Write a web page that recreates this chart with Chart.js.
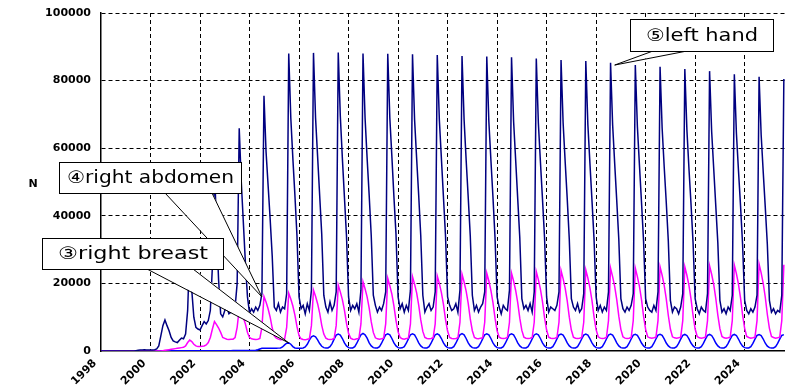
<!DOCTYPE html>
<html><head><meta charset="utf-8">
<script src="https://cdn.jsdelivr.net/npm/chart.js@4/dist/chart.umd.min.js"></script>
<style>html,body{margin:0;padding:0;background:#fff;}#wrap{width:785px;height:385px;}</style>
</head><body><div id="wrap"><canvas id="c" width="785" height="385"></canvas></div>
<script>
// ---- data (monthly, starting January 1998) ----
const startYear = 1998;
const xTickYears = [1998,2000,2002,2004,2006,2008,2010,2012,2014,2016,2018,2020,2022,2024];
const yTicks = [0,20000,40000,60000,80000,100000];
const yAxisLabel = 'N';

const leftHand = [
/*1998*/ 0,0,0,0,0,0,0,0,0,0,0,0,
/*1999*/ 0,0,0,0,0,100,200,300,300,400,300,300,
/*2000*/ 300,300,400,600,1500,4500,7500,9200,7500,6000,4000,3000,
/*2001*/ 2700,2500,3200,3800,3600,5000,12000,30000,18000,10000,7000,6500,
/*2002*/ 6200,7500,8700,8000,9000,12000,25000,55000,36000,21000,11000,10100,
/*2003*/ 12000,13100,11000,11500,12500,13000,20000,65900,50000,38000,26000,16000,
/*2004*/ 11200,12500,11500,13000,12000,13500,17000,75500,59000,49000,39000,28000,
/*2005*/ 13000,12000,14000,11500,13000,12500,17000,88000,69000,57000,46000,34000,
/*2006*/ 16000,12500,13500,11000,14000,12000,18000,88200,69000,57500,46000,34500,
/*2007*/ 16500,13000,11500,14500,12000,13500,17500,88300,69500,57000,45500,34000,
/*2008*/ 16000,12000,13500,12500,14000,11500,18000,88000,69000,57000,46000,34000,
/*2009*/ 16500,13500,11500,13000,12000,14000,17500,87950,69000,57500,45500,34500,
/*2010*/ 16000,12500,14000,11500,13500,12000,18000,87800,68500,57000,46000,34000,
/*2011*/ 16500,11500,13000,14000,12000,13000,17500,87600,68500,57000,45500,34000,
/*2012*/ 16000,13500,12000,12500,14000,11500,18000,87300,68500,56500,45500,34000,
/*2013*/ 16500,12000,13500,11500,13000,14000,17500,87100,68000,56500,45500,33500,
/*2014*/ 16000,13000,11000,13500,12500,12000,18000,86900,68000,56500,45000,33500,
/*2015*/ 15500,12500,13500,12000,14000,11500,17500,86500,67500,56000,45000,33500,
/*2016*/ 16000,11500,13000,12500,12000,13500,17500,86100,67500,56000,45000,33000,
/*2017*/ 15500,13000,12000,14000,11500,12500,17000,85800,67000,55500,44500,33000,
/*2018*/ 16000,12000,13500,11500,13000,12000,17500,85300,67000,55500,44500,33000,
/*2019*/ 15500,12500,11500,13000,12000,13500,17000,84600,66500,55000,44000,32500,
/*2020*/ 15500,13000,12000,11500,13500,12000,17500,84100,66000,54500,44000,32500,
/*2021*/ 15000,11500,13000,12500,11000,13000,17000,83400,65500,54000,43500,32000,
/*2022*/ 15500,12500,11000,13000,12000,11500,17000,82800,65000,54000,43000,32000,
/*2023*/ 15000,11500,12500,11000,13000,12000,16500,81900,64500,53500,43000,31500,
/*2024*/ 15000,12000,11000,12500,11500,13000,16500,81100,64000,53000,42500,31500,
/*2025*/ 15000,11500,12500,11000,12000,11500,16500,80500
];

const rightAbdomen = [
/*1998*/ 0,0,0,0,0,0,0,0,0,0,0,0,
/*1999*/ 0,0,0,0,0,0,0,0,0,0,0,0,
/*2000*/ 0,0,0,0,0,0,100,200,300,400,500,600,
/*2001*/ 700,800,900,1000,1100,1500,2500,3250,2800,2000,1500,1300,
/*2002*/ 1300,1400,1500,1800,2500,4000,6500,8700,7800,6800,5500,4000,
/*2003*/ 3750,3500,3400,3450,3500,4000,7000,12500,11300,9800,8000,5500,
/*2004*/ 4000,3600,3500,3400,3500,3700,7000,16100,14500,12500,10000,6800,
/*2005*/ 4500,3800,3500,3300,3400,3500,7000,17100,15400,13300,10600,7200,
/*2006*/ 4500,3600,3400,3300,3500,3600,7500,18000,16200,14000,11200,7600,
/*2007*/ 5000,3800,3500,3400,3500,3700,7500,19500,17500,15200,12100,8200,
/*2008*/ 5200,3800,3500,3400,3600,3700,8000,20500,18400,16000,12700,8600,
/*2009*/ 5500,3900,3600,3500,3600,3800,8000,21500,19300,16800,13300,9000,
/*2010*/ 5700,4000,3600,3500,3700,3800,8000,22000,19800,17200,13600,9200,
/*2011*/ 5800,4000,3700,3600,3700,3900,8000,22200,20000,17300,13800,9300,
/*2012*/ 5900,4000,3700,3600,3700,3900,8500,22700,20400,17700,14100,9500,
/*2013*/ 6000,4000,3700,3600,3800,3900,8500,23000,20700,17900,14300,9700,
/*2014*/ 6000,4100,3800,3700,3800,4000,8500,23000,20700,17900,14300,9700,
/*2015*/ 6100,4100,3800,3700,3800,4000,8500,23500,21100,18300,14600,9900,
/*2016*/ 6200,4100,3800,3700,3800,4000,8500,23800,21400,18600,14800,10000,
/*2017*/ 6200,4100,3800,3700,3800,4000,8500,24000,21600,18700,14900,10100,
/*2018*/ 6300,4200,3800,3700,3800,4000,9000,24500,22000,19100,15200,10300,
/*2019*/ 6400,4200,3800,3700,3800,4000,9000,24500,22000,19100,15200,10300,
/*2020*/ 6400,4200,3900,3800,3900,4100,9000,24900,22400,19400,15400,10500,
/*2021*/ 6500,4200,3900,3800,3900,4100,9000,24900,22400,19400,15400,10500,
/*2022*/ 6500,4300,3900,3800,3900,4100,9000,25200,22700,19700,15600,10600,
/*2023*/ 6600,4300,3900,3800,3900,4100,9000,25400,22900,19800,15700,10700,
/*2024*/ 6700,4300,4000,3800,3900,4100,9000,25700,23100,20000,15900,10800,
/*2025*/ 6700,4300,4000,3800,3900,4100,9000,25500
];

const rightBreast = [
/*1998*/ 0,0,0,0,0,0,0,0,0,0,0,0,
/*1999*/ 0,0,0,0,0,0,0,0,0,0,0,0,
/*2000*/ 0,0,0,0,50,50,50,100,100,100,100,100,
/*2001*/ 100,100,100,100,100,100,100,100,100,100,100,100,
/*2002*/ 100,100,100,100,100,100,100,100,100,100,100,100,
/*2003*/ 100,100,100,100,150,150,150,150,150,150,150,150,
/*2004*/ 150,150,150,200,350,600,800,800,800,800,800,800,
/*2005*/ 800,800,850,900,1200,1800,2300,2400,2000,1300,900,800,
/*2006*/ 800,800,900,1200,2000,3200,4200,4500,4200,3300,2200,1400,
/*2007*/ 1000,900,900,1300,2200,3500,4700,5000,4700,3700,2400,1500,
/*2008*/ 1000,900,900,1300,2300,3600,4800,5200,4800,3800,2400,1500,
/*2009*/ 1000,900,900,1300,2300,3600,4800,5100,4800,3700,2400,1500,
/*2010*/ 1000,900,950,1300,2300,3600,4800,5100,4800,3700,2400,1500,
/*2011*/ 1000,900,900,1300,2300,3600,4800,5100,4700,3700,2400,1500,
/*2012*/ 1000,900,900,1300,2300,3600,4800,5150,4800,3700,2400,1500,
/*2013*/ 1000,900,900,1300,2300,3600,4800,5100,4800,3700,2400,1500,
/*2014*/ 1000,900,900,1300,2300,3600,4800,5100,4800,3700,2400,1500,
/*2015*/ 1000,900,900,1300,2300,3600,4750,5050,4750,3700,2400,1500,
/*2016*/ 1000,900,900,1300,2300,3600,4750,5000,4700,3650,2400,1500,
/*2017*/ 1000,900,900,1300,2300,3550,4700,5000,4700,3650,2400,1500,
/*2018*/ 1000,900,900,1300,2300,3550,4700,5000,4700,3650,2400,1500,
/*2019*/ 1000,900,900,1300,2300,3550,4700,4950,4650,3600,2350,1500,
/*2020*/ 1000,900,900,1300,2300,3550,4700,4950,4650,3600,2350,1500,
/*2021*/ 1000,900,900,1300,2250,3500,4650,4900,4600,3600,2350,1500,
/*2022*/ 1000,900,900,1300,2250,3500,4650,4900,4600,3600,2350,1500,
/*2023*/ 1000,900,900,1300,2250,3500,4650,4900,4600,3550,2300,1450,
/*2024*/ 1000,900,900,1300,2250,3500,4600,4850,4550,3550,2300,1450,
/*2025*/ 1000,900,900,1300,2250,3500,4600,4850
];

const seriesLabels = ['⑤left hand','④right abdomen','③right breast'];
const seriesColors = ['#000080','#ff00ff','#0000ff'];

// callouts: box in pixels, pointer tip in data units
const callouts = [
  {text: seriesLabels[0], box:[630,19,143,32], base:[653,687], tip:{x:2018.75, y:84600}, textWidth:112},
  {text: seriesLabels[1], box:[59,162,182,31], base:[165,212], tip:{x:2004.5, y:16000}, textWidth:167},
  {text: seriesLabels[2], box:[42,238,181,31], base:[147,193], tip:{x:2005.58, y:2400}, textWidth:150}
];

const toPoints = arr => arr.map((v,i)=>({x: startYear + i/12, y: v}));

const FONT = '"DejaVu Sans", "Noto Sans CJK JP", sans-serif';

const calloutPlugin = {
  id:'callouts',
  afterDraw(chart){
    const ctx = chart.ctx, xs = chart.scales.x, ys = chart.scales.y;
    ctx.save();
    callouts.forEach(c=>{
      const [bx,by,bw,bh] = c.box;
      const tx = xs.getPixelForValue(c.tip.x), ty = ys.getPixelForValue(c.tip.y);
      const baseY = by + bh;
      ctx.beginPath();
      ctx.moveTo(c.base[0], baseY-1);
      ctx.lineTo(tx, ty);
      ctx.lineTo(c.base[1], baseY-1);
      ctx.closePath();
      ctx.fillStyle = '#fff';
      ctx.fill();
      ctx.beginPath();
      ctx.moveTo(c.base[0], baseY); ctx.lineTo(tx, ty); ctx.lineTo(c.base[1], baseY);
      ctx.strokeStyle = '#000'; ctx.lineWidth = 1;
      ctx.stroke();
      ctx.fillStyle = '#fff';
      ctx.fillRect(bx+0.5, by+0.5, bw, bh);
      ctx.strokeStyle = '#000'; ctx.lineWidth = 1;
      ctx.strokeRect(bx+0.5, by+0.5, bw, bh);
      ctx.font = '17px ' + FONT;
      const natural = ctx.measureText(c.text).width;
      const sx = c.textWidth / natural;
      ctx.fillStyle = '#000';
      ctx.textBaseline = 'middle';
      ctx.textAlign = 'left';
      const x0 = bx + (bw - c.textWidth)/2 + 0.5;
      const y = by + bh/2 + 1.5;
      ctx.save();
      ctx.translate(x0, y);
      ctx.scale(sx, 1);
      ctx.fillText(c.text, 0, 0);
      ctx.restore();
    });
    ctx.font = 'bold 11px ' + FONT;
    ctx.fillStyle = '#000';
    ctx.textAlign = 'center';
    ctx.textBaseline = 'middle';
    ctx.fillText(yAxisLabel, 33, 184);
    ctx.restore();
  }
};

new Chart(document.getElementById('c').getContext('2d'), {
  type:'line',
  data:{datasets:[
    {label:seriesLabels[0], data:toPoints(leftHand), borderColor:seriesColors[0], borderWidth:1.5, pointRadius:0, tension:0, fill:false},
    {label:seriesLabels[1], data:toPoints(rightAbdomen), borderColor:seriesColors[1], borderWidth:1.5, pointRadius:0, tension:0, fill:false},
    {label:seriesLabels[2], data:toPoints(rightBreast), borderColor:seriesColors[2], borderWidth:1.5, pointRadius:0, tension:0, fill:false}
  ]},
  options:{
    responsive:false, animation:false, devicePixelRatio:1,
    layout:{padding:{left:0,right:0,top:13,bottom:0}},
    plugins:{legend:{display:false}, tooltip:{enabled:false}},
    scales:{
      x:{type:'linear', min:1998, max:2025.63,
        afterBuildTicks: s => { s.ticks = xTickYears.map(v=>({value:v})); },
        afterFit: s => { s.height = 34; s.paddingLeft = 0; s.paddingRight = 0; },
        grid:{color: c => (c.tick && c.tick.value===xTickYears[0]) ? 'rgba(0,0,0,0)' : '#000', lineWidth:1, drawTicks:false},
        border:{display:true, color:'#000', width:1.5, dash:[4,3]},
        ticks:{minRotation:45, maxRotation:45, autoSkip:false, color:'#000', font:{family:FONT, size:11, weight:'bold'}, padding:6, labelOffset:-6, callback:v=>String(v)}
      },
      y:{min:0, max:100000,
        afterBuildTicks: s => { s.ticks = yTicks.map(v=>({value:v})); },
        afterFit: s => { s.width = 101; s.paddingTop = 0; s.paddingBottom = 0; },
        grid:{color: c => (c.tick && c.tick.value===0) ? 'rgba(0,0,0,0)' : '#000', lineWidth:1, drawTicks:false},
        border:{display:true, color:'#000', width:1.5, dash:[4,3]},
        ticks:{color:'#000', font:{family:FONT, size:11, weight:'bold'}, padding:10, callback:v=>String(v)}
      }
    }
  },
  plugins:[calloutPlugin]
});
</script></body></html>
